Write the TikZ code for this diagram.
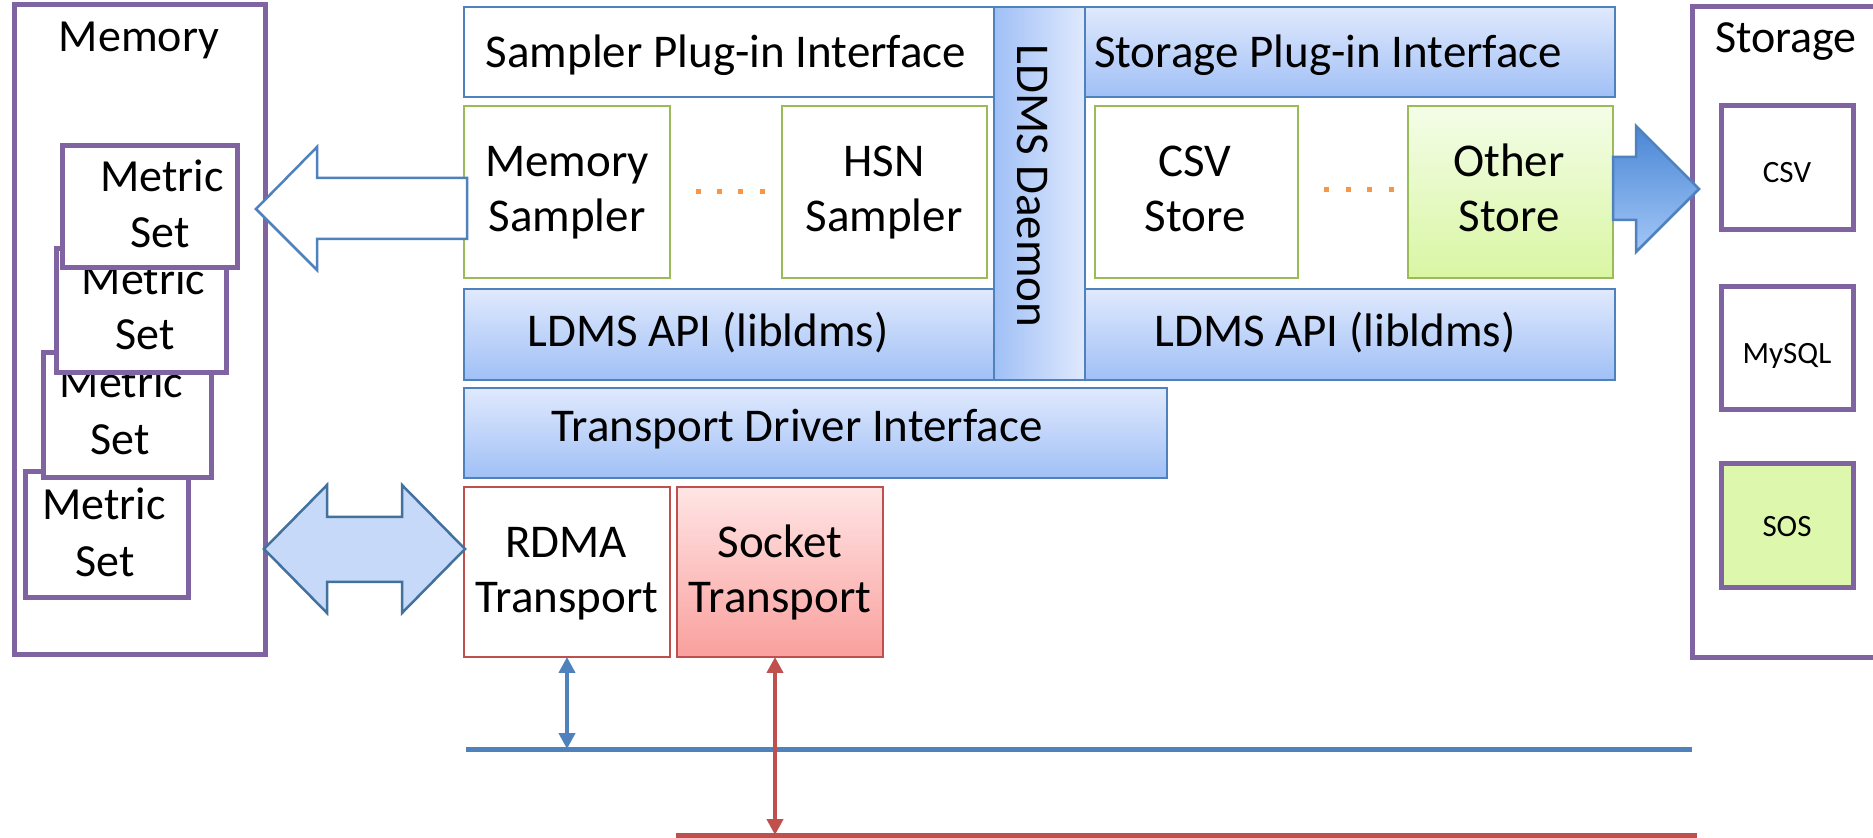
\documentclass[tikz,border=0pt]{standalone}
\usepackage{fontspec}
\setmainfont{Carlito}
\usetikzlibrary{arrows.meta}
\definecolor{bline}{HTML}{4F81BD}
\definecolor{bluetop}{HTML}{E0E9FD}
\definecolor{bluebot}{HTML}{A0C0F6}
\definecolor{pline}{HTML}{8064A2}
\definecolor{gline}{HTML}{9BBB59}
\definecolor{greentop}{HTML}{F4FDE8}
\definecolor{greenbot}{HTML}{D9F6A3}
\definecolor{sosfill}{HTML}{DDF8AD}
\definecolor{rline}{HTML}{C0504D}
\definecolor{redtop}{HTML}{FFE5E5}
\definecolor{redbot}{HTML}{F9A09D}
\definecolor{dfill}{HTML}{C6D9F8}
\definecolor{dline}{HTML}{41719C}
\definecolor{arrtop}{HTML}{4A86D4}
\definecolor{arrbot}{HTML}{A3C7F7}
\definecolor{dotc}{HTML}{F79646}
\begin{document}
\begin{tikzpicture}[x=0.5pt,y=-0.5pt,
  box/.style={rectangle, inner sep=0pt, outer sep=0pt},
  bluegrad/.style={box, draw=bline, line width=1.25pt, top color=bluetop, bottom color=bluebot},
  bluewhite/.style={box, draw=bline, line width=1.25pt, fill=white},
  greenbox/.style={box, draw=gline, line width=1.25pt, fill=white},
  greengrad/.style={box, draw=gline, line width=1.25pt, top color=greentop, bottom color=greenbot},
  redbox/.style={box, draw=rline, line width=1.25pt, fill=white},
  redgrad/.style={box, draw=rline, line width=1.25pt, top color=redtop, bottom color=redbot},
  purplebox/.style={box, draw=pline, line width=2.5pt, fill=white},
  lbl/.style={anchor=base, inner sep=0pt, font=\fontsize{23.5}{28}\selectfont},
  lblside/.style={anchor=base, inner sep=0pt, font=\fontsize{23}{28}\selectfont},
  small/.style={anchor=base, inner sep=0pt, font=\fontsize{15.5}{18}\selectfont},
  tipx/.tip={Triangle[width=8pt,length=8pt]},
  bus/.style={line width=2.5pt}
]
\useasboundingbox (0,0) rectangle (1873,838);
\fill[white] (0,0) rectangle (1873,838);
\clip (0,0) rectangle (1873,838);

% ---------- Memory side ----------
\node[purplebox, minimum width=125.5pt, minimum height=325pt] (mem) at (139.5,330) {};
\node[lblside] (memT) at (139,52) {Memory};

\node[purplebox, minimum width=81.5pt, minimum height=63pt] (ms4) at (106.5,535) {};
\node[lblside] (ms4a) at (104,520) {Metric};
\node[lblside] (ms4b) at (105,577) {Set};
\node[purplebox, minimum width=84pt, minimum height=62.5pt] (ms3) at (127,415.5) {};
\node[lblside] (ms3a) at (121.5,398) {Metric};
\node[lblside] (ms3b) at (120,455) {Set};
\node[purplebox, minimum width=85pt, minimum height=62pt] (ms2) at (141,311) {};
\node[lblside] (ms2a) at (143.5,295) {Metric};
\node[lblside] (ms2b) at (145,350) {Set};
\node[purplebox, minimum width=87.5pt, minimum height=61pt] (ms1) at (149.5,207) {};
\node[lblside] (ms1a) at (162,192) {Metric};
\node[lblside] (ms1b) at (160,248) {Set};

% ---------- Daemon stack ----------
\node[bluewhite, minimum width=265pt, minimum height=45pt] (spi) at (729,52) {};
\node[lbl] (spiT) at (726,68) {Sampler Plug-in Interface};
\node[bluegrad, minimum width=265pt, minimum height=45pt] (stpi) at (1350,52) {};
\node[lbl] (stpiT) at (1328,68) {Storage Plug-in Interface};

\node[greenbox, minimum width=103pt, minimum height=86pt] (mems) at (567,192) {};
\node[lbl] (memsA) at (567,177) {Memory};
\node[lbl] (memsB) at (567,232) {Sampler};
\node[greenbox, minimum width=102.5pt, minimum height=86pt] (hsn) at (884.5,192) {};
\node[lbl] (hsnA) at (884,177) {HSN};
\node[lbl] (hsnB) at (884,232) {Sampler};
\node[greenbox, minimum width=101.5pt, minimum height=86pt] (csvs) at (1196.5,192) {};
\node[lbl] (csvsA) at (1195,177) {CSV};
\node[lbl] (csvsB) at (1195,232) {Store};
\node[greengrad, minimum width=102.5pt, minimum height=86pt] (oth) at (1510.5,192) {};
\node[lbl] (othA) at (1509,177) {Other};
\node[lbl] (othB) at (1509,232) {Store};

\foreach \x in {698,719,740,762} \fill[dotc] (\x-2.5,189.5) rectangle ++(5,5);
\foreach \x in {1326,1348,1369,1391} \fill[dotc] (\x-2.5,187.5) rectangle ++(5,5);

\node[bluegrad, minimum width=265pt, minimum height=45.5pt] (apil) at (729,334.5) {};
\node[lbl] (apilT) at (708,347) {LDMS API (libldms)};
\node[bluegrad, minimum width=265pt, minimum height=45.5pt] (apir) at (1350,334.5) {};
\node[lbl] (apirT) at (1335,347) {LDMS API (libldms)};

\node[box, draw=bline, line width=1.25pt, left color=bluebot, right color=bluetop,
      minimum width=45.5pt, minimum height=186.5pt] (dmn) at (1039.5,193.5) {};
\node[lbl, anchor=center, rotate=-90] (dmnT) at (1033,186) {LDMS Daemon};

\node[bluegrad, minimum width=351.5pt, minimum height=45pt] (tdi) at (815.5,433) {};
\node[lbl] (tdiT) at (797,442) {Transport Driver Interface};

\node[redbox, minimum width=103pt, minimum height=85pt] (rdma) at (567,572) {};
\node[lbl] (rdmaA) at (566,558) {RDMA};
\node[lbl] (rdmaB) at (567,613) {Transport};
\node[redgrad, minimum width=103pt, minimum height=85pt] (sock) at (780,572) {};
\node[lbl] (sockA) at (780,558) {Socket};
\node[lbl] (sockB) at (780,613) {Transport};

% ---------- Networks ----------
\coordinate (bl1) at (466,749);
\coordinate (bl2) at (1692,749);
\coordinate (rl1) at (676,835);
\coordinate (rl2) at (1697,835);
\draw[bus, bline] (bl1) -- (bl2);
\draw[bus, rline] (rl1) -- (rl2);
\draw[bline, line width=2.25pt, {tipx}-{tipx}] (rdma.south) -- (rdma.south |- bl1);
\draw[rline, line width=2.25pt, {tipx}-{tipx}] ([xshift=-2.5pt]sock.south) -- ([xshift=-2.5pt]sock.south |- rl1);

% ---------- Storage side ----------
\node[purplebox, minimum width=104pt, minimum height=325.5pt] (stor) at (1796,332.5) {};
\node[lblside] (storT) at (1786,53) {Storage};
\node[purplebox, minimum width=66pt, minimum height=62pt] (csv) at (1787,168) {};
\node[small] (csvT) at (1787,183) {CSV};
\node[purplebox, minimum width=66pt, minimum height=61.5pt] (mysql) at (1787,348.5) {};
\node[small] (mysqlT) at (1787,364) {MySQL};
\node[purplebox, fill=sosfill, minimum width=66pt, minimum height=62pt] (sos) at (1787,526) {};
\node[small] (sosT) at (1787,537) {SOS};

% ---------- Block arrows ----------
\draw[bline, line width=1.25pt, fill=white, line join=miter]
  (467,178) -- (317,178) -- (317,147) -- (256,209) -- (317,270) -- (317,239) -- (467,239) -- cycle;
\draw[dline, line width=1.25pt, fill=dfill, line join=miter]
  (264,549) -- (327,485) -- (327,517) -- (402,517) -- (402,485) -- (465,549)
  -- (402,613) -- (402,582) -- (327,582) -- (327,613) -- cycle;
\draw[bline, line width=1.25pt, top color=arrtop, bottom color=arrbot, line join=miter]
  (1613,157) -- (1636,157) -- (1636,126) -- (1699,189) -- (1636,252) -- (1636,220) -- (1613,220) -- cycle;
\end{tikzpicture}
\end{document}
